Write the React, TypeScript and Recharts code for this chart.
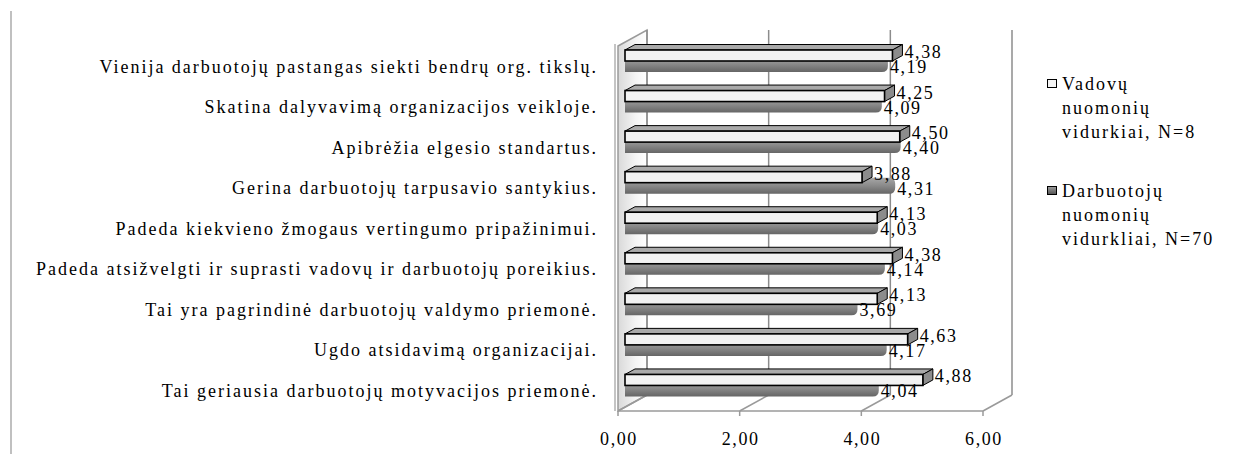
import React from 'react';
import { BarChart, Bar, XAxis, YAxis, CartesianGrid, LabelList } from 'recharts';

const categories = [
  'Vienija darbuotojų pastangas siekti bendrų org. tikslų.',
  'Skatina dalyvavimą organizacijos veikloje.',
  'Apibrėžia elgesio standartus.',
  'Gerina darbuotojų tarpusavio santykius.',
  'Padeda kiekvieno žmogaus vertingumo pripažinimui.',
  'Padeda atsižvelgti ir suprasti vadovų ir darbuotojų poreikius.',
  'Tai yra pagrindinė darbuotojų valdymo priemonė.',
  'Ugdo atsidavimą organizacijai.',
  'Tai geriausia darbuotojų motyvacijos priemonė.',
];
const vadovuVidurkiai = [4.38, 4.25, 4.5, 3.88, 4.13, 4.38, 4.13, 4.63, 4.88];
const darbuotojuVidurkiai = [4.19, 4.09, 4.4, 4.31, 4.03, 4.14, 3.69, 4.17, 4.04];
const xTicks = [0, 2, 4, 6];
const seriesNames = ['Vadovų\nnuomonių\nvidurkiai, N=8', 'Darbuotojų\nnuomonių\nvidurkliai, N=70'];

const data = categories.map((name, i) => ({
  name,
  vadovu: vadovuVidurkiai[i],
  darbuotoju: darbuotojuVidurkiai[i],
}));

const FONT = '"Liberation Serif", Tinos, "DejaVu Serif", serif';
// oblique offset of the back wall
const DEPTH_X = 29;
const DEPTH_Y = 16;

const fmt = (v: number) => v.toFixed(2).replace('.', ',');

const textStyle = { fontFamily: FONT };

// back wall grid lines, floor diagonals and the left side wall
const renderWall = (props: any) => {
  const { x1, y1, y2, index } = props;
  const bx = x1 + DEPTH_X;
  return (
    <g key={`wall-${index}`}>
      {index === 0 && (
        <>
          <defs>
            <linearGradient id="sideWall" x1="0" y1="0" x2="1" y2="0">
              <stop offset="0" stopColor="#d9d9d9" />
              <stop offset="0.6" stopColor="#f4f4f4" />
              <stop offset="1" stopColor="#ffffff" />
            </linearGradient>
            <linearGradient id="grayBar" x1="0" y1="0" x2="0" y2="1">
              <stop offset="0" stopColor="#a8a8a8" />
              <stop offset="0.5" stopColor="#8a8a8a" />
              <stop offset="1" stopColor="#666666" />
            </linearGradient>
          </defs>
          <polygon
            points={`${x1},${y1} ${bx},${y1 - DEPTH_Y} ${bx},${y2 - DEPTH_Y} ${x1},${y2}`}
            fill="url(#sideWall)"
            stroke="#9a9a9a"
            strokeWidth={1.5}
          />
          <line x1={x1 - 3} y1={y1 - 2} x2={x1 - 3} y2={y2} stroke="#b0b0b0" strokeWidth={1.5} />
        </>
      )}
      <line x1={bx} y1={y1 - DEPTH_Y} x2={bx} y2={y2 - DEPTH_Y} stroke="#8c8c8c" strokeWidth={1.5} />
      <line x1={x1} y1={y2} x2={bx} y2={y2 - DEPTH_Y} stroke="#9a9a9a" strokeWidth={1.5} />
    </g>
  );
};

const WhiteBar = (props: any) => {
  const { x, y, width } = props;
  const x0 = x + 7;
  const x1 = x + width + 8;
  const top = y - 16;
  const bot = top + 11;
  const dx = 10;
  const dy = 5.5;
  return (
    <g>
      <polygon
        points={`${x0},${top} ${x0 + dx},${top - dy} ${x1 + dx},${top - dy} ${x1},${top}`}
        fill="#a9a9a9"
        stroke="#000"
        strokeWidth={1}
      />
      <polygon
        points={`${x1},${top} ${x1 + dx},${top - dy} ${x1 + dx},${bot - dy} ${x1},${bot}`}
        fill="#8c8c8c"
        stroke="#000"
        strokeWidth={1}
      />
      <rect x={x0} y={top} width={x1 - x0} height={11} fill="#f2f2f2" stroke="#000" strokeWidth={1.6} />
    </g>
  );
};

const GrayBar = (props: any) => {
  const { x, y, width } = props;
  const x0 = x + 7;
  const x1 = x + width + 15;
  const top = y + 1;
  const bot = y + 17;
  const r = 6;
  const d = `M${x0},${top} H${x1 - r} Q${x1},${top} ${x1},${top + r} V${bot - r} Q${x1},${bot} ${x1 - r},${bot} H${x0} Z`;
  return <path d={d} fill="url(#grayBar)" />;
};

const WhiteLabel = (props: any) => {
  const { x, y, width, value } = props;
  return (
    <text x={x + width + 20} y={y - 8} style={textStyle} fontSize={18} letterSpacing={1.6} fill="#000">
      {fmt(value)}
    </text>
  );
};

const GrayLabel = (props: any) => {
  const { x, y, width, value } = props;
  return (
    <text x={x + width + 17} y={y + 18} style={textStyle} fontSize={18} letterSpacing={1.6} fill="#000">
      {fmt(value)}
    </text>
  );
};

const XTick = (props: any) => {
  const { x, y, payload } = props;
  return (
    <text x={x + 1} y={y + 27} textAnchor="middle" style={textStyle} fontSize={18} letterSpacing={1.6} fill="#000">
      {fmt(payload.value)}
    </text>
  );
};

const YTick = (props: any) => {
  const { x, y, payload } = props;
  return (
    <text x={x - 20} y={y} dy="0.35em" textAnchor="end" style={textStyle} fontSize={18} letterSpacing={2} fill="#000">
      {payload.value}
    </text>
  );
};

export default function App() {
  return (
    <div style={{ position: 'absolute', left: 0, top: 0, width: 1237, height: 454, background: '#fff', fontFamily: FONT }}>
      <div style={{ position: 'absolute', left: 10, top: 11, width: 1.5, height: 443, background: '#c0c0c0' }} />
      <BarChart
        width={1237}
        height={454}
        data={data}
        layout="vertical"
        barGap={0}
        margin={{ top: 46, right: 254, left: 0, bottom: 0 }}
      >
        <CartesianGrid horizontal={false} vertical={renderWall} />
        <XAxis
          type="number"
          domain={[0, 6]}
          ticks={xTicks}
          height={43}
          tickSize={5}
          axisLine={{ stroke: '#9a9a9a', strokeWidth: 1.5 }}
          tickLine={{ stroke: '#9a9a9a', strokeWidth: 1.5 }}
          tick={<XTick />}
        />
        <YAxis
          type="category"
          dataKey="name"
          width={618}
          axisLine={false}
          tickLine={false}
          tickSize={0}
          tickMargin={0}
          interval={0}
          tick={<YTick />}
        />
        <Bar dataKey="darbuotoju" name={seriesNames[1]} barSize={11} shape={<GrayBar />} isAnimationActive={false}>
          <LabelList dataKey="darbuotoju" content={<GrayLabel />} />
        </Bar>
        <Bar dataKey="vadovu" name={seriesNames[0]} barSize={11} shape={<WhiteBar />} isAnimationActive={false}>
          <LabelList dataKey="vadovu" content={<WhiteLabel />} />
        </Bar>
      </BarChart>
      <div style={{ position: 'absolute', left: 1047, top: 72 }}>
        {seriesNames.map((name, i) => (
          <div key={name} style={{ display: 'flex', alignItems: 'flex-start', marginBottom: 35 }}>
            <div
              style={{
                width: 8,
                height: 7,
                border: '1.5px solid #000',
                background: i === 0 ? '#f4f4f4' : 'linear-gradient(#9a9a9a, #555)',
                marginTop: 7,
                marginRight: 5,
              }}
            />
            <div style={{ whiteSpace: 'pre-line', fontSize: 18, lineHeight: '24px', letterSpacing: 2, color: '#000' }}>
              {name}
            </div>
          </div>
        ))}
      </div>
    </div>
  );
}
